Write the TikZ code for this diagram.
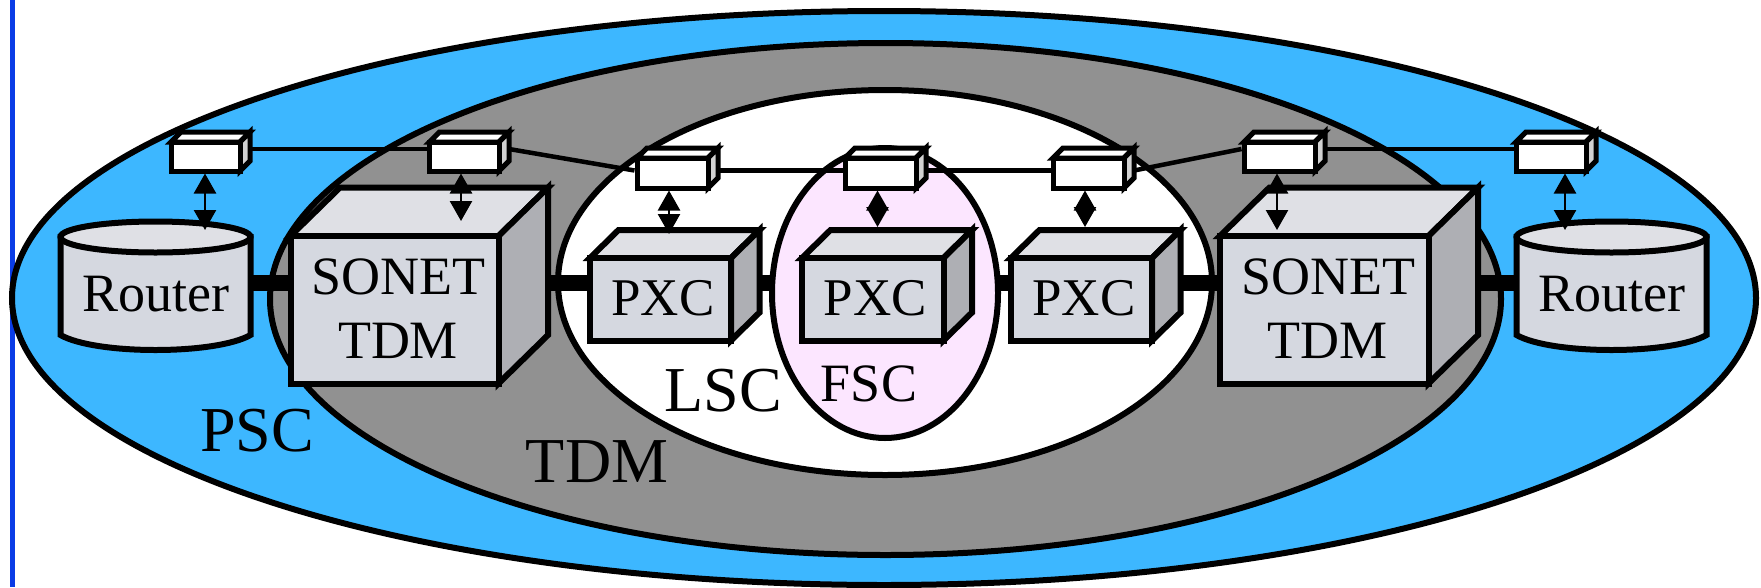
\documentclass[tikz,border=0pt]{standalone}
\usepackage{fontspec}
\setmainfont{Liberation Serif}
\usetikzlibrary{arrows.meta}
\definecolor{pscblue}{HTML}{3DB7FF}
\definecolor{tdmgray}{HTML}{919191}
\definecolor{fscpink}{HTML}{FCE6FF}
\definecolor{barblue}{HTML}{0A3CE6}
\definecolor{frontc}{HTML}{D5D8E0}
\definecolor{topc}{HTML}{DFE0E5}
\definecolor{sidec}{HTML}{AEAFB4}
\definecolor{swside}{HTML}{D2D2D2}
\tikzset{
  region/.style={draw=black,line width=6pt},
  wire/.style={draw=black,line width=4.5pt},
  trunk/.style={draw=black,line width=16pt},
  dbl/.style={draw=black,line width=2.5pt,{Triangle[length=20pt,width=22pt]}-{Triangle[length=20pt,width=22pt]}},
  bigface/.style={draw=black,line width=6pt,line join=miter},
  swface/.style={draw=black,line width=5pt,line join=miter},
  lbl/.style={anchor=base,inner sep=0pt,text=black},
}
\newcommand{\boxthreed}[9]{%
  \pgfmathsetmacro{\bxa}{#2+#6}\pgfmathsetmacro{\bxb}{#4+#6}%
  \pgfmathsetmacro{\bya}{#3-#7}\pgfmathsetmacro{\byb}{#5-#7}%
  \pgfmathsetmacro{\bw}{#4-#2}\pgfmathsetmacro{\bh}{#5-#3}%
  \pgfmathsetmacro{\bcx}{(#2+#4)/2}\pgfmathsetmacro{\bcy}{(#3+#5)/2}%
  \path[#9,fill=topc] (#2,#3) -- (\bxa,\bya) -- (\bxb,\bya) -- (#4,#3) -- cycle;
  \path[#9,fill=#8] (#4,#3) -- (\bxb,\bya) -- (\bxb,\byb) -- (#4,#5) -- cycle;
  \coordinate (#1-b) at (\bxb,\bya);
  \node[#9,fill=frontc,minimum width=\bw pt,minimum height=\bh pt,inner sep=0pt] (#1) at (\bcx,\bcy) {};
}
\newcommand{\swbox}[5]{%
  \pgfmathsetmacro{\bxa}{#2+10}\pgfmathsetmacro{\bxb}{#4+10}%
  \pgfmathsetmacro{\bya}{#3-10}\pgfmathsetmacro{\byb}{#5-10}%
  \pgfmathsetmacro{\bw}{#4-#2}\pgfmathsetmacro{\bh}{#5-#3}%
  \pgfmathsetmacro{\bcx}{(#2+#4)/2}\pgfmathsetmacro{\bcy}{(#3+#5)/2}%
  \path[swface,fill=white] (#2,#3) -- (\bxa,\bya) -- (\bxb,\bya) -- (#4,#3) -- cycle;
  \path[swface,fill=swside] (#4,#3) -- (\bxb,\bya) -- (\bxb,\byb) -- (#4,#5) -- cycle;
  \coordinate (#1-b) at (\bxb,\bya);
  \node[swface,fill=white,minimum width=\bw pt,minimum height=\bh pt,inner sep=0pt] (#1) at (\bcx,\bcy) {};
}
\newcommand{\routercyl}[2]{%
  \path[bigface,fill=frontc] (#2-95,237) -- (#2-95,335) .. controls (#2-60,355) and (#2+60,355) .. (#2+95,335) -- (#2+95,237) -- cycle;
  \path[bigface,fill=topc] (#2,237) ellipse [x radius=95, y radius=15.5];
  \node[minimum width=195pt,minimum height=10pt,inner sep=0pt,outer sep=0pt] (#1) at (#2,283) {};
}
\begin{document}
\begin{tikzpicture}[x=1pt,y=-1pt]
\useasboundingbox (0,0) rectangle (1761,587);
\fill[white] (0,0) rectangle (1761,587);
\fill[barblue] (9.7,0) rectangle (14.5,587);
% named positions
\coordinate (mid) at (885,283);
\coordinate (wa) at (885,149);
\coordinate (wb) at (885,170.5);
\coordinate (a1) at (205,230);
\coordinate (a2) at (461,221);
\coordinate (a3) at (669,234);
\coordinate (a4) at (877.5,227);
\coordinate (a5) at (1085,227);
\coordinate (a6) at (1277,230);
\coordinate (a7) at (1565,230);
% regions
\path[region,fill=pscblue] (884,298) ellipse [x radius=872, y radius=287];
\path[region,fill=tdmgray] (885.5,299) ellipse [x radius=615.5, y radius=256];
\path[region,fill=white] (885,282.5) ellipse [x radius=327, y radius=192.5];
% trunks inside the LSC region run behind the FSC region
\coordinate (p1x) at (761,283);
\coordinate (p3x) at (1011,283);
\draw[trunk] (p1x) -- (p3x);
\path[region,fill=fscpink] (885,293) ellipse [x radius=113, y radius=145];
% devices
\routercyl{r1}{155.5}
\routercyl{r2}{1611.5}
\boxthreed{s1}{290.5}{236}{498.5}{383.5}{49.5}{48.5}{sidec}{bigface}
\boxthreed{s2}{1220}{236}{1428.5}{383.5}{49.5}{48.5}{sidec}{bigface}
\boxthreed{p1}{590}{258}{731}{340.5}{28.5}{28}{sidec}{bigface}
\boxthreed{p2}{802}{258}{943.5}{340.5}{28.5}{28}{sidec}{bigface}
\boxthreed{p3}{1011}{258}{1152}{340.5}{28.5}{28}{sidec}{bigface}
% trunk connectors
\draw[trunk] (r1.east |- mid) -- (s1.west |- mid);
\draw[trunk] (s1-b |- mid) -- (p1.west |- mid);
\draw[trunk] (p3-b |- mid) -- (s2.west |- mid);
\draw[trunk] (s2-b |- mid) -- (r2.west |- mid);
% switch boxes
\swbox{sw1}{171}{142}{240}{171}
\swbox{sw2}{429.5}{142}{499}{171}
\swbox{sw3}{637}{158}{708}{188}
\swbox{sw4}{845}{158}{916}{188}
\swbox{sw5}{1053}{158}{1124}{188}
\swbox{sw6}{1244}{142}{1315}{171}
\swbox{sw7}{1516}{142}{1586}{171}
% signalling wires
\draw[wire] (sw1-b |- wa) -- (sw2.west |- wa);
\draw[wire] (sw2-b |- wa) -- (sw3.west |- wb);
\draw[wire] (sw3-b |- wb) -- (sw4.west |- wb);
\draw[wire] (sw4-b |- wb) -- (sw5.west |- wb);
\draw[wire] (sw5-b |- wb) -- (sw6.west |- wa);
\draw[wire] (sw6-b |- wa) -- (sw7.west |- wa);
% vertical double arrows
\draw[dbl] (a1 |- sw1.south) -- (a1);
\draw[dbl] (a2 |- sw2.south) -- (a2);
\draw[dbl] (a3 |- sw3.south) -- (a3);
\draw[dbl] (a4 |- sw4.south) -- (a4);
\draw[dbl] (a5 |- sw5.south) -- (a5);
\draw[dbl] (a6 |- sw6.south) -- (a6);
\draw[dbl] (a7 |- sw7.south) -- (a7);
% text
\node[lbl,font=\fontsize{54}{54}\selectfont] (t1) at (155.5,311) {Router};
\node[lbl,font=\fontsize{54}{54}\selectfont] (t2) at (1612,311) {Router};
\node[lbl,font=\fontsize{54}{54}\selectfont] (t3) at (398.5,294.5) {SONET};
\node[lbl,font=\fontsize{54}{54}\selectfont] (t4) at (398,358) {TDM};
\node[lbl,font=\fontsize{54}{54}\selectfont] (t5) at (1328,294.5) {SONET};
\node[lbl,font=\fontsize{54}{54}\selectfont] (t6) at (1327,358) {TDM};
\node[lbl,font=\fontsize{53}{53}\selectfont] (t7) at (663,315) {PXC};
\node[lbl,font=\fontsize{53}{53}\selectfont] (t8) at (875.5,315) {PXC};
\node[lbl,font=\fontsize{53}{53}\selectfont] (t9) at (1084,315) {PXC};
\node[lbl,font=\fontsize{64}{64}\selectfont] (t10) at (257,451.5) {PSC};
\node[lbl,font=\fontsize{64}{64}\selectfont] (t11) at (597,482) {TDM};
\node[lbl,font=\fontsize{64}{64}\selectfont] (t12) at (723,411.5) {LSC};
\node[lbl,font=\fontsize{54}{54}\selectfont] (t13) at (869,401.5) {FSC};
\end{tikzpicture}
\end{document}
